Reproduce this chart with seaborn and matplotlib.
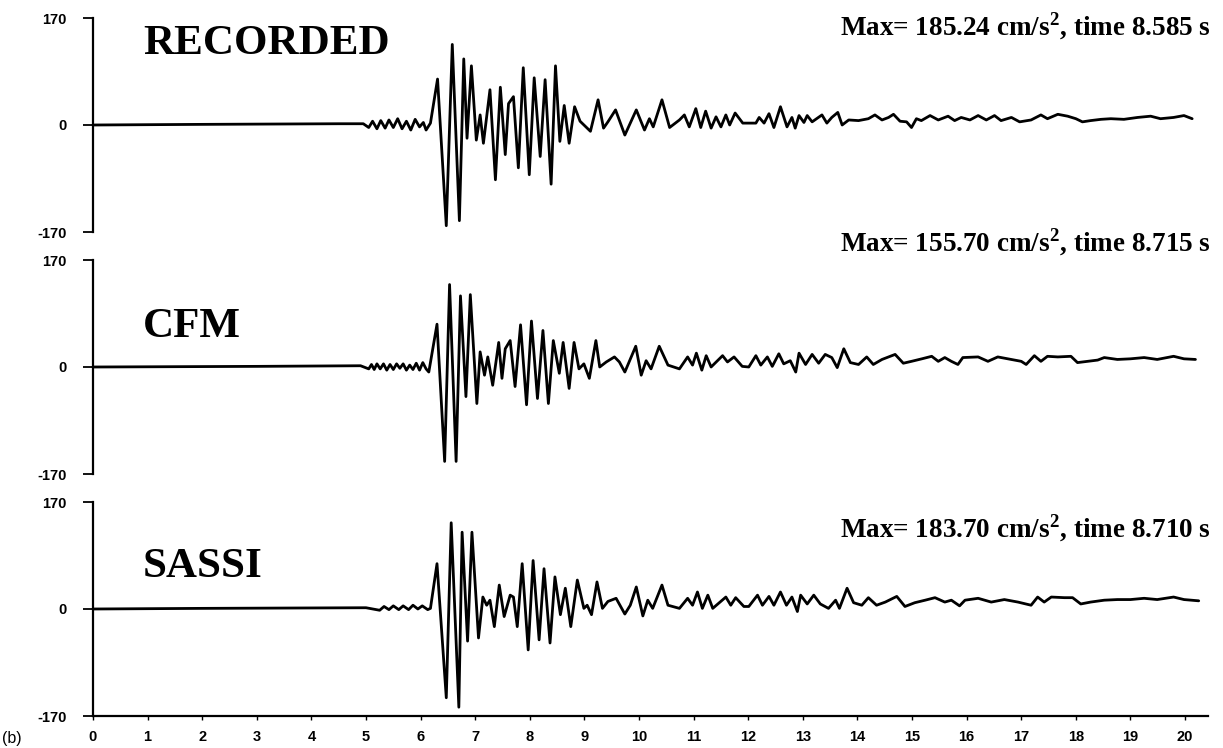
import matplotlib
matplotlib.use("Agg")
import matplotlib.pyplot as plt
import seaborn as sns
import pandas as pd

sns.set_style("ticks")
plt.rcParams["font.family"] = ["Liberation Sans", "DejaVu Sans"]
plt.rcParams["mathtext.fontset"] = "custom"
plt.rcParams["mathtext.rm"] = "Liberation Serif:bold"
plt.rcParams["mathtext.bf"] = "Liberation Serif:bold"
plt.rcParams["axes.unicode_minus"] = False
for key in ["text.color", "axes.edgecolor", "xtick.color", "ytick.color", "axes.labelcolor"]:
    plt.rcParams[key] = "black"

# acceleration (cm/s2), at the turning points of each wiggle
REC_T = [0, 2.0, 4.5, 4.95, 5.05, 5.12, 5.20, 5.27, 5.35, 5.42, 5.50, 5.58, 5.66, 5.74, 5.82, 5.90, 5.98, 6.05, 6.10, 6.18,
         6.31, 6.47, 6.58, 6.71, 6.79, 6.85, 6.93, 7.02, 7.09, 7.15, 7.27, 7.37, 7.46, 7.55, 7.61, 7.70, 7.79, 7.88, 7.99, 8.08,
         8.19, 8.28, 8.39, 8.47, 8.55, 8.63, 8.72, 8.82, 8.92, 9.11, 9.25, 9.35, 9.43, 9.57, 9.74, 9.95, 10.10, 10.19, 10.26, 10.42,
         10.56, 10.74, 10.83, 10.92, 11.04, 11.13, 11.22, 11.32, 11.41, 11.50, 11.59, 11.66, 11.76, 11.90, 12.14, 12.20, 12.29, 12.38, 12.47, 12.59,
         12.71, 12.80, 12.86,
         12.93, 13.02, 13.08, 13.17, 13.35, 13.44, 13.53, 13.64, 13.72, 13.84, 14.02, 14.20, 14.32, 14.45, 14.57, 14.66, 14.78, 14.90, 14.99, 15.08,
         15.17, 15.33, 15.48, 15.66, 15.78, 15.90, 16.06, 16.21, 16.36, 16.51, 16.63, 16.82, 16.97, 17.18, 17.36, 17.48, 17.67, 17.85, 18.00, 18.12,
         18.27, 18.46, 18.64, 18.88, 19.13, 19.37, 19.55, 19.79, 19.98, 20.13]
REC_A = [0, 1, 2, 2, -4, 6, -6, 7, -5, 8, -4, 10, -6, 6, -8, 9, -3, 4, -8, 3,
         73, -160, 128, -152, 105, -21, 94, -24, 16, -29, 56, -87, 60, -47, 34, 45, -68, 91, -79, 75,
         -50, 72, -94, 94, -26, 31, -29, 29, 6, -10, 40, -5, 5, 24, -16, 24, -8, 10, -3, 40,
         -4, 8, 16, -3, 26, -4, 22, -5, 13, -3, 16, 0, 19, 3, 3, 12, 3, 18, -4, 29,
         -3, 12, -5,
         15, 4, 15, 5, 16, 3, 12, 20, 0, 8, 7, 10, 16, 8, 12, 17, 6, 5, -4, 10,
         7, 15, 8, 14, 7, 12, 8, 15, 8, 15, 7, 12, 5, 8, 16, 10, 17, 14, 10, 5,
         7, 9, 10, 9, 12, 14, 10, 12, 15, 10]

CFM_T = [0, 3.0, 4.9, 5.05, 5.10, 5.15, 5.20, 5.26, 5.32, 5.38, 5.44, 5.50, 5.56, 5.62, 5.68, 5.74, 5.80, 5.86, 5.92, 5.98, 6.04, 6.10, 6.15,
         6.30, 6.44, 6.53, 6.65, 6.73, 6.83, 6.91, 7.03, 7.09, 7.17, 7.23, 7.32, 7.43, 7.49, 7.55, 7.64, 7.73, 7.83, 7.94, 8.03,
         8.14, 8.24, 8.34, 8.43, 8.54, 8.61, 8.72, 8.81, 8.90, 8.99, 9.09, 9.21, 9.28, 9.40, 9.55, 9.64, 9.74, 9.94, 10.04, 10.13,
         10.22, 10.37, 10.53, 10.74, 10.89, 10.98, 11.05, 11.15, 11.23, 11.32, 11.53, 11.62, 11.74, 11.89, 12.01, 12.14, 12.23, 12.35, 12.44, 12.56,
         12.65, 12.77, 12.87,
         12.93, 13.05, 13.17, 13.29, 13.41, 13.53, 13.63, 13.75, 13.87, 14.02, 14.17, 14.29, 14.45, 14.69, 14.84, 14.99, 15.18, 15.36, 15.48, 15.60,
         15.72, 15.84, 15.93, 16.21, 16.39, 16.57, 16.82, 17.00, 17.09, 17.24, 17.36, 17.48, 17.67, 17.91, 18.03, 18.21, 18.40, 18.52, 18.76, 19.00,
         19.25, 19.49, 19.79, 19.98, 20.19]
CFM_A = [0, 1, 2, -3, 4, -4, 5, -3, 5, -5, 4, -4, 5, -2, 5, -5, 3, -4, 6, -5, 7, -3, -8,
         68, -150, 131, -150, 113, -47, 115, -58, 24, -13, 16, -29, 39, -18, 29, 42, -31, 67, -60, 73,
         -50, 58, -58, 42, -10, 39, -34, 39, -3, 5, -18, 42, 0, 8, 16, 8, -8, 33, -13, 10,
         -3, 33, 3, -3, 16, 3, 22, -5, 18, 0, 18, 8, 16, 1, 0, 18, 3, 16, 1, 21,
         5, 10, -8,
         22, 4, 20, 6, 20, 15, -1, 29, 7, 4, 16, 4, 12, 20, 6, 9, 13, 17, 9, 15,
         9, 4, 15, 16, 9, 16, 12, 9, 4, 18, 9, 17, 16, 17, 7, 9, 11, 15, 12, 13,
         15, 12, 17, 13, 12]

SASSI_T = [0, 2.0, 5.0, 5.25, 5.33, 5.42, 5.50, 5.60, 5.68, 5.78, 5.86, 5.95, 6.03, 6.13, 6.18,
           6.30, 6.47, 6.56, 6.70, 6.76, 6.86, 6.94, 7.06, 7.14, 7.21, 7.27, 7.35, 7.44, 7.53, 7.64, 7.70, 7.77, 7.86, 7.97, 8.06,
           8.17, 8.26, 8.37, 8.46, 8.56, 8.65, 8.75, 8.87, 8.99, 9.05, 9.13, 9.23, 9.33, 9.43, 9.58, 9.74, 9.84, 9.95, 10.07, 10.16,
           10.25, 10.42, 10.53, 10.74, 10.89, 10.98, 11.07, 11.16, 11.26, 11.35, 11.59, 11.68, 11.77, 11.92, 12.01, 12.17, 12.26, 12.38, 12.47, 12.59,
           12.70, 12.80, 12.90,
           12.96, 13.08, 13.20, 13.32, 13.47, 13.60, 13.67, 13.81, 13.93, 14.08, 14.20, 14.35, 14.51, 14.72, 14.87, 15.05, 15.24, 15.42, 15.60, 15.72,
           15.87, 15.97, 16.21, 16.45, 16.69, 16.94, 17.18, 17.30, 17.42, 17.55, 17.79, 17.94, 18.09, 18.27, 18.52, 18.76, 19.00, 19.25, 19.49, 19.79,
           19.98, 20.25]
SASSI_A = [0, 1, 2, -2, 4, -1, 5, -1, 5, -1, 6, 0, 5, -1, 1,
           72, -141, 137, -156, 122, -51, 122, -46, 19, 6, 14, -28, 38, -12, 22, 19, -28, 72, -65, 77,
           -49, 64, -54, 51, -9, 33, -28, 46, 1, 6, -9, 43, 1, 12, 17, -8, 6, 35, -11, 14,
           1, 38, 6, 1, 17, 6, 27, 1, 22, 1, 19, 6, 18, 4, 4, 22, 6, 20, 6, 27,
           6, 19, -4,
           22, 8, 22, 8, 1, 14, 1, 33, 10, 6, 18, 6, 11, 20, 4, 10, 14, 18, 11, 14,
           5, 14, 17, 11, 15, 11, 6, 19, 11, 19, 18, 18, 8, 11, 14, 15, 15, 17, 15, 19,
           15, 13]

NAMES = ["RECORDED", "CFM", "SASSI"]
MAX_TEXT = [r"Max= 185.24 cm/s$^{2}$, time 8.585 s",
            r"Max= 155.70 cm/s$^{2}$, time 8.715 s",
            r"Max= 183.70 cm/s$^{2}$, time 8.710 s"]
X_TICKS = list(range(0, 21))
Y_TICKS = [-170, 0, 170]
Y_LABELS = ["-170", "0", "170"]

series = [(REC_T, REC_A), (CFM_T, CFM_A), (SASSI_T, SASSI_A)]

W, H = 1223, 748
fig = plt.figure(figsize=(W / 100, H / 100), dpi=100)

# pixel layout of the three panels (top, bottom of the -170..170 spine)
X0, X1 = 93, 1208
T_MAX = 20.42
panel_px = [(18, 232), (260, 474), (502, 716)]
title_y = [54, 337, 577]
max_y = [35, 251, 537]

for i, (t, a) in enumerate(series):
    top, bot = panel_px[i]
    ax = fig.add_axes([X0 / W, 1 - bot / H, (X1 - X0) / W, (bot - top) / H])
    df = pd.DataFrame({"time": t, "acc": a})
    sns.lineplot(data=df, x="time", y="acc", ax=ax, color="black", linewidth=2.0,
                 estimator=None, sort=False)
    for ln in ax.lines:
        ln.set_solid_joinstyle("round")
        ln.set_solid_capstyle("round")
        ln.set_clip_on(False)

    ax.set_xlim(0, T_MAX)
    ax.set_ylim(-170, 170)
    ax.set_xlabel("")
    ax.set_ylabel("")
    ax.set_yticks(Y_TICKS)
    ax.set_yticklabels(Y_LABELS, fontweight="bold", fontsize=10.5)
    ax.tick_params(axis="y", direction="out", length=7, width=1.3, pad=12, left=True)
    ax.spines["top"].set_visible(False)
    ax.spines["right"].set_visible(False)
    ax.spines["left"].set_linewidth(1.6)
    if i < 2:
        ax.spines["bottom"].set_visible(False)
        ax.set_xticks([])
    else:
        ax.spines["bottom"].set_linewidth(1.6)
        ax.set_xticks(X_TICKS)
        ax.set_xticklabels([str(v) for v in X_TICKS], fontweight="bold", fontsize=10.5)
        ax.tick_params(axis="x", direction="out", length=3, width=1, pad=7, bottom=True)

    fig.text(143 / W, 1 - title_y[i] / H, NAMES[i], fontfamily="Liberation Serif",
             fontweight="bold", fontsize=31, va="baseline", ha="left")
    fig.text(1211 / W, 1 - max_y[i] / H, MAX_TEXT[i], fontfamily="Liberation Serif",
             fontweight="bold", fontsize=19.5, va="baseline", ha="right")

fig.text(2 / W, 1 - 738 / H, "(b)", fontsize=11.5, va="center", ha="left")

fig.savefig("out.png", dpi=100)
